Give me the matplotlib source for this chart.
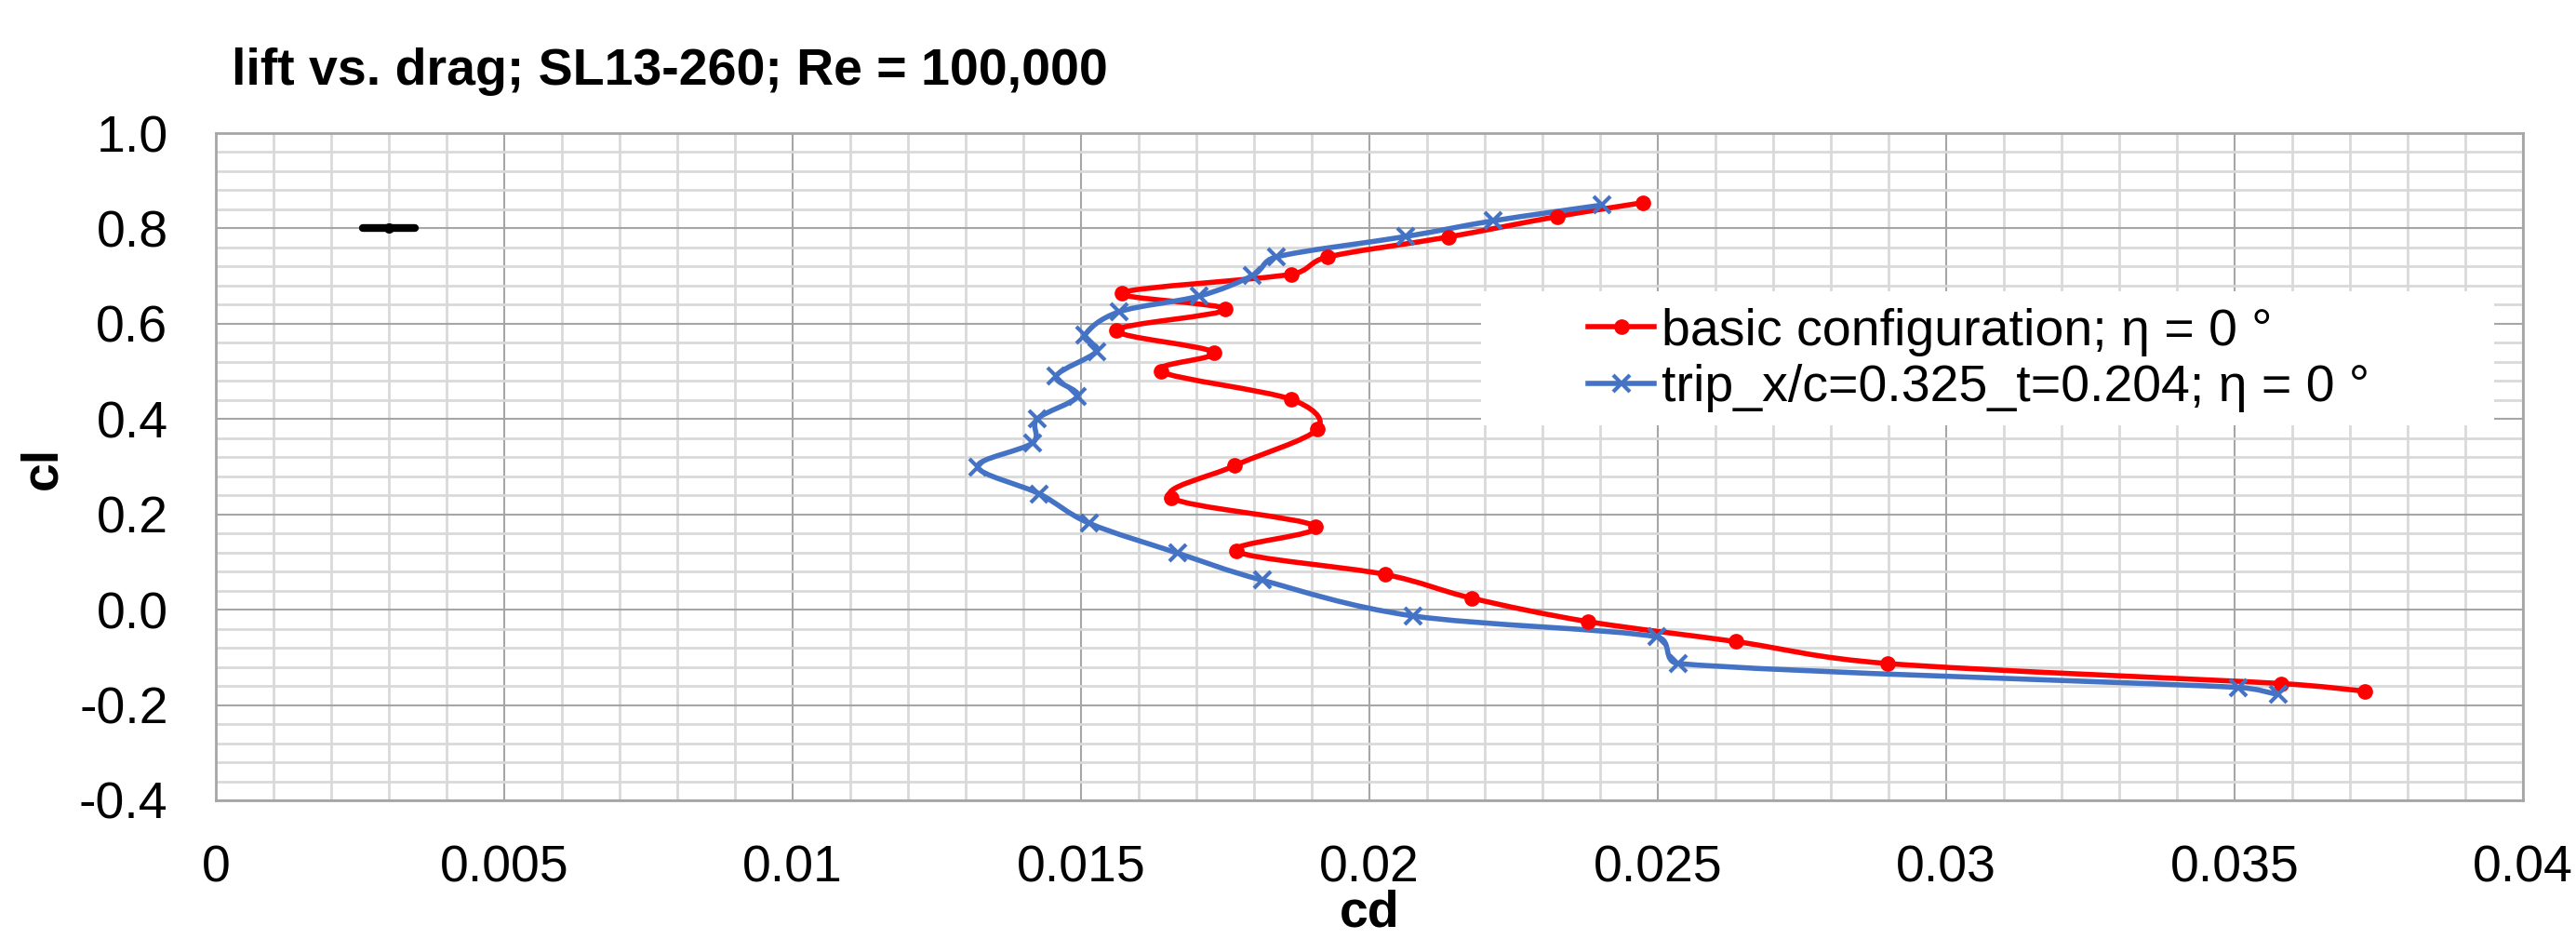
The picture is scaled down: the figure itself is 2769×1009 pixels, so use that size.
import matplotlib
matplotlib.use("Agg")
import matplotlib.pyplot as plt
import numpy as np
from matplotlib.path import Path
from matplotlib.patches import PathPatch, Rectangle
from matplotlib.lines import Line2D
from matplotlib.ticker import MultipleLocator

plt.rcParams['font.family'] = ['Liberation Sans', 'DejaVu Sans']

# polar data, ordered by increasing cl
basic_cd = [0.03726, 0.03581, 0.02899, 0.02636, 0.02379, 0.02178, 0.02027, 0.01769,
            0.01906, 0.01657, 0.01766, 0.01910, 0.01865, 0.01638, 0.01730, 0.01562,
            0.01750, 0.01571, 0.01865, 0.01927, 0.02137, 0.02326, 0.02474]
basic_cl = [-0.171, -0.155, -0.113, -0.067, -0.025, 0.024, 0.074, 0.123,
            0.175, 0.235, 0.302, 0.379, 0.441, 0.500, 0.540, 0.586,
            0.630, 0.665, 0.704, 0.740, 0.782, 0.825, 0.854]

trip_cd = [0.03575, 0.03506, 0.02536, 0.02498, 0.02075, 0.01814, 0.01667, 0.01515,
           0.01428, 0.01321, 0.01416, 0.01424, 0.01494, 0.01457, 0.01527, 0.01507,
           0.01566, 0.01705, 0.01797, 0.01838, 0.02063, 0.02215, 0.02403]
trip_cl = [-0.178, -0.163, -0.113, -0.057, -0.013, 0.062, 0.119, 0.181,
           0.243, 0.300, 0.350, 0.400, 0.448, 0.490, 0.542, 0.576,
           0.625, 0.658, 0.701, 0.740, 0.783, 0.816, 0.849]

# measurement uncertainty marker
unc_cd = [0.003]
unc_cl = [0.8]
unc_err = [0.00045]

basic_label = "basic configuration; η = 0 °"
trip_label = "trip_x/c=0.325_t=0.204; η = 0 °"

xticks = [0, 0.005, 0.01, 0.015, 0.02, 0.025, 0.03, 0.035, 0.04]
xtick_labels = ["0", "0.005", "0.01", "0.015", "0.02", "0.025", "0.03", "0.035", "0.04"]
yticks = [1.0, 0.8, 0.6, 0.4, 0.2, 0.0, -0.2, -0.4]
ytick_labels = ["1.0", "0.8", "0.6", "0.4", "0.2", "0.0", "-0.2", "-0.4"]

RED = '#ff0000'
BLUE = '#4472c4'
FS = 40
LW = 4.0


def smooth_path(ax, x, y, f=1 / 6):
    # spreadsheet-style smoothed line: catmull-rom style bezier handles,
    # capped at half the segment length, done in screen space
    p = ax.transData.transform(np.column_stack([x, y]))
    n = len(p)
    verts = [p[0]]
    codes = [Path.MOVETO]
    for i in range(n - 1):
        p0 = p[i - 1] if i > 0 else p[i]
        p1 = p[i]
        p2 = p[i + 1]
        p3 = p[i + 2] if i + 2 < n else p[i + 1]
        d12 = np.hypot(*(p2 - p1))
        d02 = np.hypot(*(p2 - p0))
        d13 = np.hypot(*(p3 - p1))
        f1 = f if d02 * f < d12 / 2 else d12 / (2 * d02)
        f2 = f if d13 * f < d12 / 2 else d12 / (2 * d13)
        c1 = p1 + f1 * (p2 - p0)
        c2 = p2 - f2 * (p3 - p1)
        verts += [c1, c2, p2]
        codes += [Path.CURVE4] * 3
    verts = ax.transData.inverted().transform(np.array(verts))
    return Path(verts, codes)


W, H = 2769, 1009
fig = plt.figure(figsize=(W / 100, H / 100), dpi=100)
ax = fig.add_axes([232 / W, 1 - 860 / H, 2480 / W, 717 / H])

ax.set_xlim(0, 0.04)
ax.set_ylim(-0.4, 1.0)
ax.set_xticks(xticks)
ax.set_xticklabels(xtick_labels)
ax.set_yticks(yticks)
ax.set_yticklabels(ytick_labels)
ax.xaxis.set_minor_locator(MultipleLocator(0.001))
ax.yaxis.set_minor_locator(MultipleLocator(0.04))
ax.tick_params(which='both', length=0, labelsize=FS)
ax.tick_params(axis='x', pad=34)
ax.tick_params(axis='y', pad=37)

ax.grid(which='minor', color='#d9d9d9', lw=2.0, zorder=0)
ax.grid(which='major', color='#a6a6a6', lw=1.5, zorder=0)
ax.set_axisbelow(True)
for s in ax.spines.values():
    s.set_color('#a6a6a6')
    s.set_linewidth(2)

# white legend panel
ax.add_patch(Rectangle((0.5484, 0.5621), 0.4391, 0.2008, transform=ax.transAxes,
                       facecolor='white', edgecolor='none', zorder=1))

ax.add_patch(PathPatch(smooth_path(ax, basic_cd, basic_cl), facecolor='none',
                       edgecolor=RED, lw=LW, zorder=3))
ax.plot(basic_cd, basic_cl, linestyle='none', marker='o', ms=11, color=RED, zorder=4)

ax.add_patch(PathPatch(smooth_path(ax, trip_cd, trip_cl), facecolor='none',
                       edgecolor=BLUE, lw=LW, zorder=3))
ax.plot(trip_cd, trip_cl, linestyle='none', marker='x', ms=13, mew=3.0, color=BLUE, zorder=4)

eb = ax.errorbar(unc_cd, unc_cl, xerr=unc_err, fmt='o', color='black', ms=7,
                 elinewidth=6, capsize=0, zorder=5)
eb[2][0].set_capstyle('round')

handles = [Line2D([], [], color=RED, lw=LW, marker='o', ms=11),
           Line2D([], [], color=BLUE, lw=LW, marker='x', ms=13, mew=3.0)]
fig.legend(handles, [basic_label, trip_label], loc='center left',
           bbox_to_anchor=(1707 / W, 1 - 387 / H), frameon=False, fontsize=FS,
           handlelength=1.28, handletextpad=0.15, labelspacing=0.15, borderpad=0,
           borderaxespad=0)

fig.text(249 / W, 1 - 91 / H, "lift vs. drag; SL13-260; Re = 100,000",
         fontsize=FS, fontweight='bold', ha='left', va='baseline')
fig.text(46 / W, 1 - 503 / H, "cl", fontsize=FS, fontweight='bold',
         rotation=90, ha='center', va='center')
fig.text(1472 / W, 1 - 995 / H, "cd", fontsize=FS, fontweight='bold',
         ha='center', va='baseline')

fig.savefig("out.png", dpi=100)
